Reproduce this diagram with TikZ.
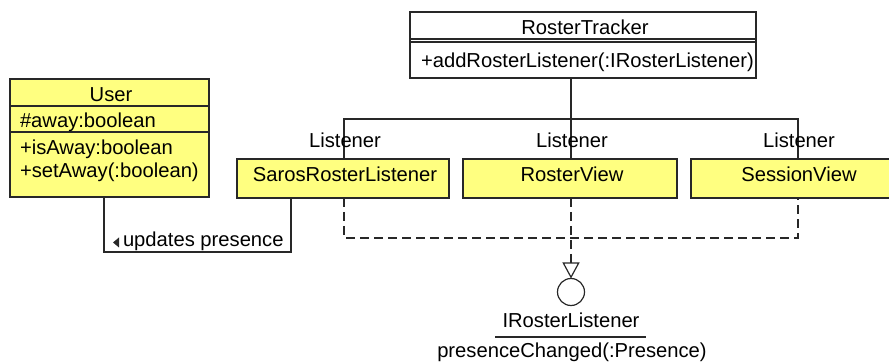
\documentclass[tikz,border=0pt]{standalone}
\usepackage{fontspec}
\setmainfont{Liberation Sans}
\usetikzlibrary{arrows.meta}

\definecolor{classfill}{RGB}{255,255,128}
\definecolor{ink}{RGB}{40,40,40}
\newcommand{\umlfont}{\fontsize{20.2}{24}\selectfont}

\tikzset{
  classbox/.style={draw=ink, line width=1.2pt, fill=classfill, anchor=north west,
                   inner sep=0pt, outer sep=0pt},
  plainbox/.style={classbox, fill=white},
  txt/.style={anchor=base, inner sep=0pt, outer sep=0pt, font=\umlfont, text=black},
  txtl/.style={txt, anchor=base west},
  conn/.style={draw=ink, line width=1.2pt},
  realize/.style={conn, dash pattern=on 9pt off 5pt},
}

\begin{document}
\begin{tikzpicture}[x=1pt, y=-1pt]
\useasboundingbox (0,0) rectangle (889,363);
\clip (0,0) rectangle (889,363);

% x positions of the listener attachment lines and the rows of the connectors
\coordinate (xs) at (344,0);
\coordinate (xv) at (571,0);
\coordinate (xw) at (798,0);
\coordinate (xu) at (104,0);
\coordinate (xa) at (291,0);
\coordinate (hub) at (0,119);
\coordinate (dashrow) at (0,238);
\coordinate (assocrow) at (0,252);

% RosterTracker class
\node[plainbox, minimum width=346pt, minimum height=66pt] (tracker) at (410,12) {};
\draw[conn] (tracker.north west |- 0,39) -- (tracker.north east |- 0,39);
\draw[conn] (tracker.north west |- 0,42) -- (tracker.north east |- 0,42);
\node[txt] (trackername) at (585,35) {RosterTracker};
\node[txtl] (trackerop) at (421,68) {+addRosterListener(:IRosterListener)};

% User class
\node[classbox, minimum width=199pt, minimum height=118pt] (user) at (10,79) {};
\draw[conn] (user.north west |- 0,106) -- (user.north east |- 0,106);
\draw[conn] (user.north west |- 0,132) -- (user.north east |- 0,132);
\node[txt] (username) at (111,102) {User};
\node[txtl] (userattr) at (20,128) {\#away:boolean};
\node[txtl] (userop1) at (20,155) {+isAway:boolean};
\node[txtl] (userop2) at (20,178) {+setAway(:boolean)};

% listener classes
\node[classbox, minimum width=212pt, minimum height=39pt] (saros) at (237,159) {};
\node[classbox, minimum width=214pt, minimum height=39pt] (rosterview) at (463,159) {};
\node[classbox, minimum width=210pt, minimum height=39pt] (session) at (691,159) {};
\node[txt] (sarosname) at (345,182) {SarosRosterListener};
\node[txt] (rvname) at (572,182) {RosterView};
\node[txt] (svname) at (799,182) {SessionView};

% association from RosterTracker to its listeners
\draw[conn] (tracker.south -| xv) -- (xv |- rosterview.north);
\draw[conn] (xs |- saros.north) |- (xv |- hub) -| (xw |- session.north);
\node[txt] (roles) at (345,148) {Listener};
\node[txt] (rolev) at (572,148) {Listener};
\node[txt] (rolew) at (799,148) {Listener};

% association between User and SarosRosterListener
\draw[conn] (xu |- user.south) |- (xa |- assocrow) -- (xa |- saros.south);
\fill[ink] (113,242.5) -- (119,237.5) -- (119,247.5) -- cycle;
\node[txtl] (assoclabel) at (123,247) {updates presence};

% IRosterListener interface
\node[circle, draw=ink, line width=1.2pt, fill=white, minimum size=27pt,
      inner sep=0pt, outer sep=0pt] (iface) at (571,292) {};
\node[txt] (ifname) at (571,328) {IRosterListener};
\coordinate (ulleft) at (495,337);
\coordinate (ulright) at (646,337);
\draw[conn] (ulleft) -- (ulright);
\node[txt] (ifop) at (572,358) {presenceChanged(:Presence)};

% realizations of IRosterListener
\draw[realize] (xs |- saros.south) |- (xw |- dashrow) -- (xw |- session.south);
\draw[realize, -{Triangle[open, length=16pt, width=17pt, line width=1.2pt]}]
  (xv |- rosterview.south) -- (iface.north);
\end{tikzpicture}
\end{document}
